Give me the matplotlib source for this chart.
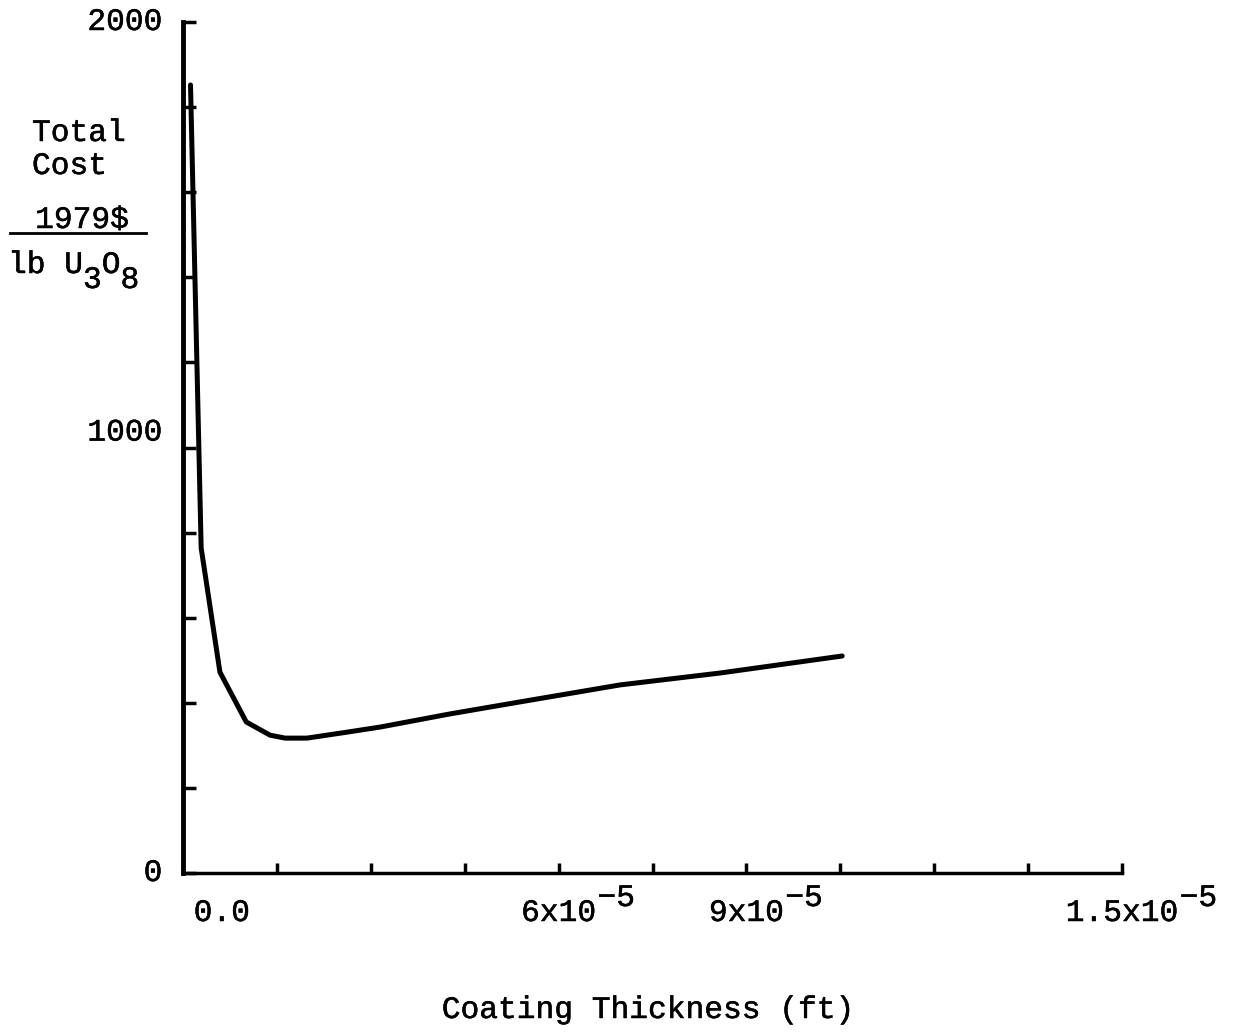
import numpy as np
import matplotlib.pyplot as plt
import matplotlib.patheffects as pe

# coating thickness in units of 1e-5 ft, total cost in 1979$ / lb U3O8
thickness = [0.12, 0.29, 0.59, 1.01, 1.39, 1.63, 1.98, 2.30, 2.62, 3.15, 4.27, 5.38, 6.98, 8.58, 10.53]
cost = [1852, 764, 472, 355, 324, 317, 317, 324, 331, 343, 374, 402, 442, 470, 510]

x_ticks = np.arange(0, 15.01, 1.5)
y_ticks = np.arange(0, 2001, 200)
x_labels = [(0.62, '0.0', ''), (6, '6x10', '\u22125'), (9, '9x10', '\u22125'), (15, '1.5x10', '\u22125')]
y_labels = [(0, '0'), (1035, '1000'), (2000, '2000')]

plt.rcParams['font.family'] = ['Liberation Mono', 'DejaVu Sans Mono']
fs = 22.5
heavy = [pe.withStroke(linewidth=0.35, foreground='black')]

fig = plt.figure(figsize=(12.45, 10.32), dpi=100)
ax = fig.add_axes([183/1245, 1 - 873/1032, (1122 - 183)/1245, (873 - 22)/1032])

ax.plot(thickness, cost, color='black', lw=3.6, solid_joinstyle='round', solid_capstyle='round')

ax.set_xlim(0, 15)
ax.set_ylim(0, 2000)
for s in ['top', 'right']:
    ax.spines[s].set_visible(False)
ax.spines['left'].set_linewidth(3.5)
ax.spines['bottom'].set_linewidth(2.5)
ax.set_xticks(x_ticks)
ax.set_yticks(y_ticks)
ax.set_xticklabels([])
ax.set_yticklabels([])
ax.tick_params(axis='y', direction='in', length=9, width=2.5)
ax.tick_params(axis='x', direction='in', length=7, width=2.5)

for v, t in y_labels:
    ax.text(-0.022, v, t, transform=ax.get_yaxis_transform(), ha='right', va='center',
            fontsize=fs, path_effects=heavy)

for v, t, sup in x_labels:
    txt = ax.text(v, -0.047, t, transform=ax.get_xaxis_transform(), ha='center', va='center',
                  fontsize=fs, path_effects=heavy)
    if sup:
        ax.annotate(sup, xy=(1, 0.5), xycoords=txt, xytext=(1, 0), textcoords='offset points',
                    ha='left', va='bottom', fontsize=fs, path_effects=heavy)

fig.text(648/1245, 1 - 1010/1032, 'Coating Thickness (ft)', ha='center', va='center',
         fontsize=fs, path_effects=heavy)

# y axis label, stacked as in the original
fig.text(32/1245, 1 - 133/1032, 'Total', ha='left', va='center', fontsize=fs, path_effects=heavy)
fig.text(32/1245, 1 - 166/1032, 'Cost', ha='left', va='center', fontsize=fs, path_effects=heavy)
fig.text(82/1245, 1 - 220/1032, '1979$', ha='center', va='center', fontsize=fs, path_effects=heavy)
fig.add_artist(plt.Line2D([10/1245, 146/1245], [1 - 233/1032, 1 - 233/1032], color='black', lw=2))
lb = fig.text(8/1245, 1 - 265/1032, 'lb U', ha='left', va='center', fontsize=fs, path_effects=heavy)
s1 = ax.annotate('3', xy=(1, 0.0), xycoords=lb, ha='left', va='center', fontsize=fs, path_effects=heavy)
o = ax.annotate('O', xy=(1, 0.5), xycoords=(s1, lb), ha='left', va='center', fontsize=fs, path_effects=heavy)
ax.annotate('8', xy=(1, 0.0), xycoords=(o, lb), ha='left', va='center', fontsize=fs, path_effects=heavy)

fig.savefig('out.png', dpi=100)
